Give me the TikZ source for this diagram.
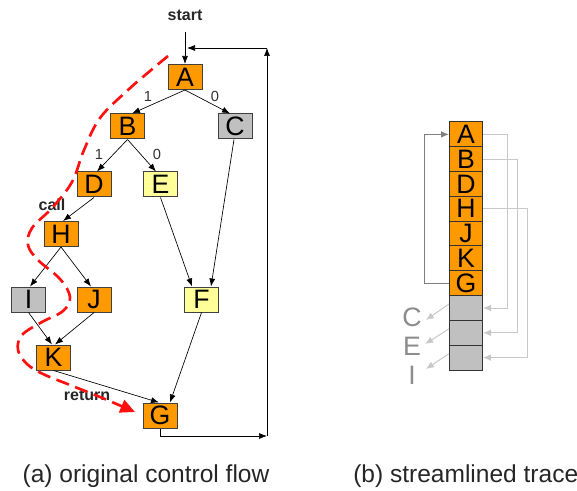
\documentclass[tikz,border=0pt]{standalone}
\usepackage{fontspec}
\setmainfont{Liberation Sans}
\usetikzlibrary{arrows.meta,calc}
\definecolor{orgC}{HTML}{FF9900}
\definecolor{gryC}{HTML}{C0C0C0}
\definecolor{ylwC}{HTML}{FFFF99}
\definecolor{redC}{HTML}{FF1010}
\definecolor{dgry}{HTML}{808080}
\definecolor{lgry}{HTML}{C8C8C8}
\definecolor{tgry}{HTML}{8C8C8C}
\tikzset{
  box/.style={draw=black!75, line width=0.75pt, minimum width=25.5pt, minimum height=18.75pt, inner sep=0pt, font=\fontsize{20}{20}\selectfont},
  org/.style={box, fill=orgC},
  gry/.style={box, fill=gryC},
  ylw/.style={box, fill=ylwC},
  cell/.style={draw=black!80, line width=0.75pt, minimum width=24.75pt, minimum height=18.6pt, inner sep=0pt, font=\fontsize{20}{20}\selectfont},
  ocell/.style={cell, fill=orgC},
  gcell/.style={cell, fill=gryC},
  arr/.style={-{Latex[length=6pt,width=4.5pt]}, line width=0.5pt, black},
  darr/.style={-{Latex[length=6pt,width=5pt]}, line width=0.75pt, dgry},
  larr/.style={-{Latex[length=6pt,width=5pt]}, line width=0.75pt, lgry},
  lbl/.style={inner sep=0pt, font=\fontsize{11}{11}\selectfont, text=black!80},
  blbl/.style={inner sep=0pt, font=\bfseries\fontsize{12}{12}\selectfont, text=black!85},
  tlet/.style={inner sep=0pt, font=\fontsize{20}{20}\selectfont, text=tgry},
  captxt/.style={inner sep=0pt, font=\fontsize{18.4}{22}\selectfont, text=black!85},
}
\begin{document}
\begin{tikzpicture}[x=0.75pt,y=-0.75pt]
\useasboundingbox (0,0) rectangle (577,491);
% left panel nodes
\node[org] (A) at (185,77) {A};
\node[org] (B) at (127.5,126.5) {B};
\node[gry] (C) at (235,126.5) {C};
\node[org] (D) at (94,184.5) {D};
\node[ylw] (E) at (160.5,184.5) {E};
\node[org] (H) at (61,234) {H};
\node[gry] (I) at (28.5,299.5) {I};
\node[org] (J) at (94,299.5) {J};
\node[ylw] (F) at (201.5,299.5) {F};
\node[org] (K) at (53.5,357.5) {K};
\node[org] (G) at (160,415.5) {G};
% labels
\node[blbl] (st) at (185,15) {start};
\node[blbl] (call) at (52,205) {call};
\node[blbl] (ret) at (87,395) {return};
\node[lbl] (l1a) at (148,96) {1};
\node[lbl] (l0a) at (215,96) {0};
\node[lbl] (l1b) at (99,154) {1};
\node[lbl] (l0b) at (157,154) {0};
% edges
\coordinate (s0) at (185,32);
\draw[arr] (s0) -- (A.north);
\draw[arr] (A.south) -- ($(B.north)+(4.5,0)$);
\draw[arr] (A.south) -- ($(C.north)+(-5,0)$);
\draw[arr] (B.south) -- ($(D.north)+(3,0)$);
\draw[arr] (B.south) -- ($(E.north)+(-4.5,0)$);
\draw[arr] (D.south) -- ($(H.north)+(2,0)$);
\draw[arr] (E.south) -- ($(F.north)+(-9.5,0)$);
\draw[arr] ($(C.south)+(-1,0)$) -- ($(F.north)+(9.5,0)$);
\draw[arr] (H.south) -- ($(I.north)+(1.5,0)$);
\draw[arr] (H.south) -- ($(J.north)+(-3,0)$);
\draw[arr] (I.south) -- ($(K.north)+(-1.5,0)$);
\draw[arr] (J.south) -- ($(K.north)+(1.5,0)$);
\draw[arr] (K.south) -- ($(G.north)+(-1,0)$);
\draw[arr] (F.south) -- ($(G.north)+(10,0)$);
% loop back
\coordinate (c1) at (267,436);
\coordinate (c2) at (267,48);
\coordinate (c3) at (187,48);
\draw[arr] (G.south) |- (c1);
\draw[arr] (c1) -- (c2);
\draw[arr] (c2) -- (c3);
% red dashed path
\draw[redC, line width=2pt, dash pattern=on 10pt off 5pt, -{Triangle[length=11pt,width=10pt]}]
  plot[smooth, tension=0.6] coordinates {(168,56) (150,71) (128,90) (100,118) (84,150) (72,182) (52,208) (32,228) (28,245) (38,260) (60,279) (70,297) (63,311) (42,322) (22,335) (18,350) (27,364) (43,374) (70,385) (100,397) (135,412)};
% right panel
\node[ocell] (tA) at (466,134.4) {A};
\node[ocell] (tB) at (466,159.2) {B};
\node[ocell] (tD) at (466,184.0) {D};
\node[ocell] (tH) at (466,208.8) {H};
\node[ocell] (tJ) at (466,233.6) {J};
\node[ocell] (tK) at (466,258.4) {K};
\node[ocell] (tG) at (466,283.2) {G};
\node[gcell] (tx1) at (466,308.0) {};
\node[gcell] (tx2) at (466,332.8) {};
\node[gcell] (tx3) at (466,357.6) {};
\node[tlet] (lC) at (412,317) {C};
\node[tlet] (lE) at (412,346) {E};
\node[tlet] (lI) at (412,375) {I};
\coordinate (r1) at (424,283.2);
\coordinate (r2) at (424,134.4);
\draw[darr] (tG.west) -- (r1) -- (r2) -- (tA.west);
\coordinate (q1) at (507,134.4);
\coordinate (q2) at (517,159.2);
\coordinate (q3) at (527,208.8);
\draw[larr] (tA.east) -- (q1) |- (tx1.east);
\draw[larr] (tB.east) -- (q2) |- (tx2.east);
\draw[larr] (tH.east) -- (q3) |- (tx3.east);
\draw[larr] ($(tx1.west)+(0,-4)$) -- ($(lC.east)+(4,3)$);
\draw[larr] ($(tx2.west)+(0,-4)$) -- ($(lE.east)+(4,-2)$);
\draw[larr] ($(tx3.west)+(0,-4)$) -- ($(lI.east)+(10,-6)$);
% captions
\node[captxt, anchor=base] (capa) at (146,482) {(a) original control flow};
\node[captxt, anchor=base west] (capb) at (353,482) {(b) streamlined trace};
\end{tikzpicture}
\end{document}
